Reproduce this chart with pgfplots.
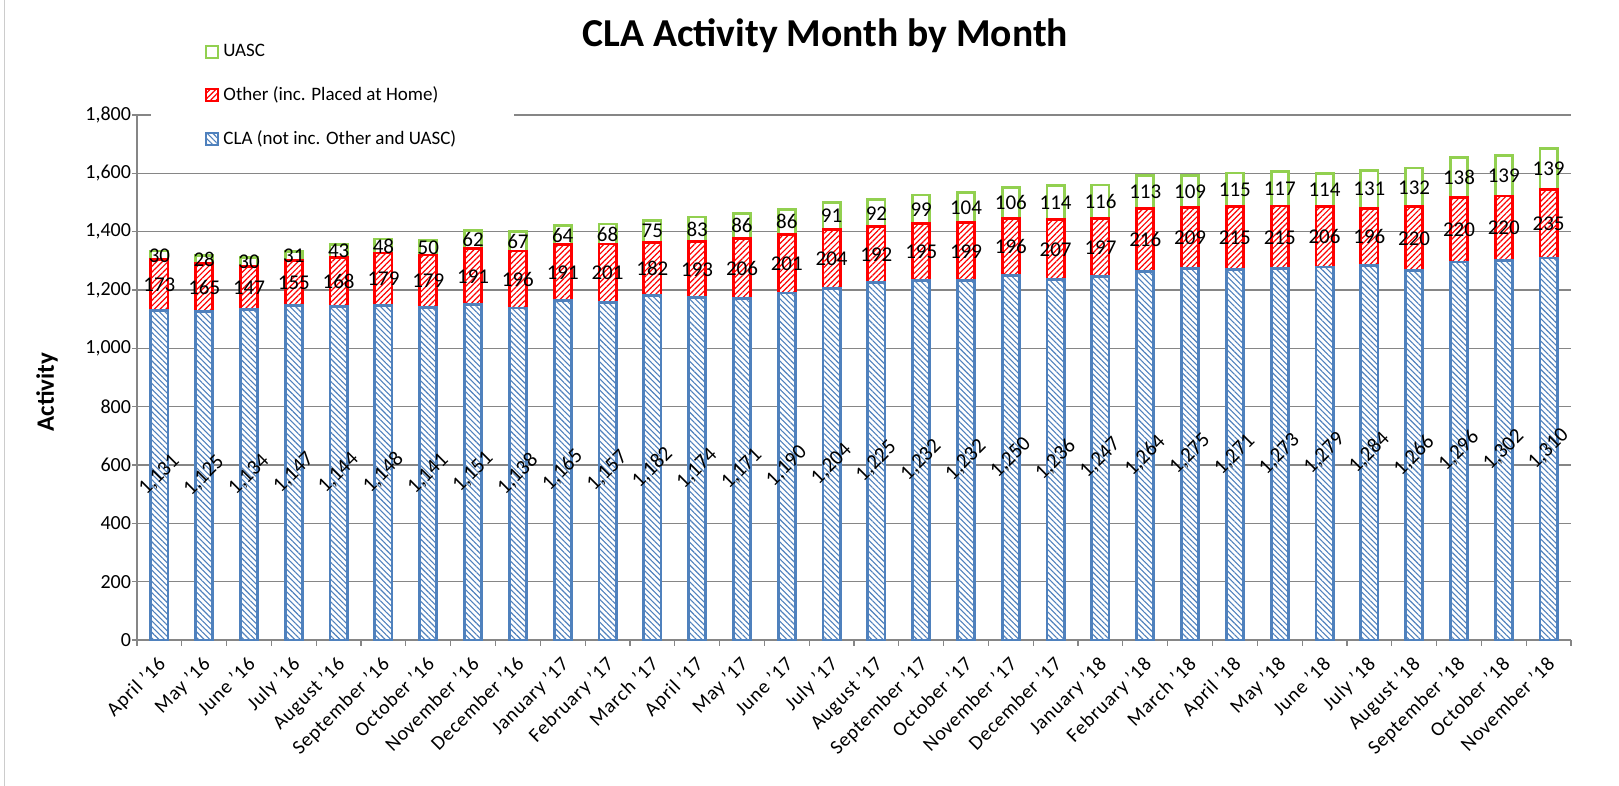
\documentclass[border=0pt]{standalone}
\usepackage{pgfplots}
\pgfplotsset{compat=1.18}
\usepackage{pgfplotstable}
\usepackage{fontspec}
\setmainfont{Carlito}
\usetikzlibrary{patterns,patterns.meta}

\definecolor{clablue}{RGB}{79,129,189}
\definecolor{othred}{RGB}{255,0,0}
\definecolor{uascgreen}{RGB}{146,208,80}
\definecolor{gridgray}{RGB}{134,134,134}

\pgfplotstableread{
idx cla oth uasc
0 1131 173 30
1 1125 165 28
2 1134 147 30
3 1147 155 31
4 1144 168 43
5 1148 179 48
6 1141 179 50
7 1151 191 62
8 1138 196 67
9 1165 191 64
10 1157 201 68
11 1182 182 75
12 1174 193 83
13 1171 206 86
14 1190 201 86
15 1204 204 91
16 1225 192 92
17 1232 195 99
18 1232 199 104
19 1250 196 106
20 1236 207 114
21 1247 197 116
22 1264 216 113
23 1275 209 109
24 1271 215 115
25 1273 215 117
26 1279 206 114
27 1284 196 131
28 1266 220 132
29 1296 220 138
30 1302 220 139
31 1310 235 139
}\data

\begin{document}
\begin{tikzpicture}
\useasboundingbox (-68.5pt,-73pt) rectangle (741pt,320pt);
\draw[gray!40, line width=0.5pt] (-66pt,-73pt) -- (-66pt,320pt);
\begin{axis}[
  at={(0,0)}, anchor=south west,
  scale only axis, width=717pt, height=262.5pt,
  ybar stacked, bar width=8.6pt,
  xmin=-0.5, xmax=31.5, ymin=0, ymax=1800,
  ytick={0,200,...,1800},
  xtick={0,...,31},
  xticklabels={April '16,May '16,June '16,July '16,August '16,September '16,October '16,November '16,December '16,January '17,February '17,March '17,April '17,May '17,June '17,July '17,August '17,September '17,October '17,November '17,December '17,January '18,February '18,March '18,April '18,May '18,June '18,July '18,August '18,September '18,October '18,November '18},
  x tick label style={rotate=45, anchor=north east, font=\fontsize{10}{12}\selectfont\addfontfeature{LetterSpace=4}, inner sep=1pt, xshift=-3.5pt, yshift=-1.5pt},
  y tick label style={font=\fontsize{10}{12}\selectfont, xshift=3pt},
  major x tick style={draw=none},
  minor xtick={-0.5,0.5,...,31.5},
  minor tick length=3pt,
  major tick length=2.5pt,
  tick align=outside,
  tick style={gridgray, line width=0.6pt},
  axis x line*=bottom, axis y line*=left,
  axis line style={gridgray, line width=0.6pt},
  ymajorgrids, grid style={gridgray, line width=0.6pt},
  /pgf/number format/1000 sep={,},
  /pgf/number format/assume math mode=true,
  ylabel={Activity},
  ylabel style={at={(axis description cs:-0.0628,0.472)}, anchor=center, font=\bfseries\fontsize{12.5}{14}\selectfont},
  title={CLA Activity Month by Month},
  title style={at={(axis description cs:0.48,1.128)}, anchor=center, yshift=0pt, font=\bfseries\fontsize{19.8}{23}\selectfont},
  legend style={at={(axis description cs:0.0098,1.154)}, anchor=north west, draw=none, fill=white,
    font=\fontsize{9.5}{11}\selectfont, row sep=9.5pt, inner xsep=27pt, inner ysep=3pt},
  legend cell align=left,
  reverse legend,
  legend image code/.code={\draw[#1, line width=1pt] (0pt,-3pt) rectangle (6pt,3pt);},
  clip=false,
]
\addplot[draw=clablue, line width=1.4pt, fill=white,
  postaction={pattern={Lines[angle=-45,distance=2pt,line width=0.55pt]}, pattern color=clablue}]
  table[x=idx, y=cla]{\data};
\addlegendentry{CLA (not inc. Other and UASC)}
\addplot[draw=othred, line width=1.4pt, fill=white,
  postaction={pattern={Lines[angle=45,distance=2pt,line width=0.6pt]}, pattern color=othred}]
  table[x=idx, y=oth]{\data};
\addlegendentry{Other (inc. Placed at Home)}
\addplot[draw=uascgreen, line width=1.4pt, fill=white]
  table[x=idx, y=uasc]{\data};
\addlegendentry{UASC}
\end{axis}
\begin{axis}[
  at={(0,0)}, anchor=south west,
  scale only axis, width=717pt, height=262.5pt,
  xmin=-0.5, xmax=31.5, ymin=0, ymax=1800,
  hide axis, clip=false,
  point meta=explicit,
  /pgf/number format/1000 sep={,},
  /pgf/number format/assume math mode=true,
  every node near coord/.append style={anchor=center, font=\fontsize{10.5}{12}\selectfont, inner sep=0pt, text=black},
]
\addplot[draw=none, mark=none, nodes near coords, every node near coord/.append style={rotate=45}]
  table[x=idx, y expr=\thisrow{cla}/2, meta=cla]{\data};
\addplot[draw=none, mark=none, nodes near coords]
  table[x=idx, y expr=\thisrow{cla}+\thisrow{oth}/2, meta=oth]{\data};
\addplot[draw=none, mark=none, nodes near coords]
  table[x=idx, y expr=\thisrow{cla}+\thisrow{oth}+\thisrow{uasc}/2, meta=uasc]{\data};
\end{axis}
\end{tikzpicture}
\end{document}
